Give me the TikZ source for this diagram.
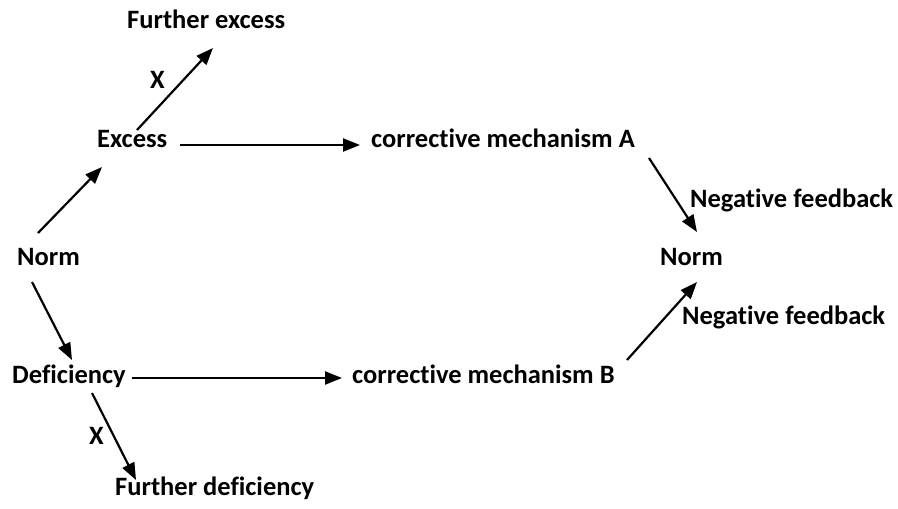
\documentclass[tikz,border=0pt]{standalone}
\usepackage{fontspec}
\setmainfont{Carlito}[Ligatures={NoCommon}]
\usetikzlibrary{arrows.meta}
\begin{document}
\begin{tikzpicture}[x=1pt,y=-1pt,
  lbl/.style={inner sep=0pt,anchor=base west,font=\bfseries\fontsize{26.5}{31}\selectfont},
  arr/.style={line width=2.2pt,-{Triangle[length=17pt,width=13pt]}}]
\useasboundingbox (0,0) rectangle (898,509);
\node[lbl] (fex) at (127,28) {Further excess};
\node[lbl] (xup) at (150,88) {X};
\node[lbl] (exc) at (97,147) {Excess};
\node[lbl] (cmA) at (371,147) {corrective mechanism A};
\node[lbl] (nfA) at (690,207) {Negative feedback};
\node[lbl] (normR) at (660,265) {Norm};
\node[lbl] (nfB) at (682,324) {Negative feedback};
\node[lbl] (normL) at (17,265) {Norm};
\node[lbl] (def) at (12,383) {Deficiency};
\node[lbl] (cmB) at (352,383) {corrective mechanism B};
\node[lbl] (xdn) at (89,444) {X};
\node[lbl] (fdef) at (115,495) {Further deficiency};
\draw[arr] ([shift={(21,-32)}]normL.base west) -- ([shift={(5,20)}]exc.base west);
\draw[arr] ([shift={(40,-17)}]exc.base west) -- ([shift={(86,20)}]fex.base west);
\draw[arr] ([shift={(83,-2)}]exc.base west) -- ([shift={(-11,-2)}]cmA.base west);
\draw[arr] ([shift={(278,11)}]cmA.base west) -- ([shift={(37,-33)}]normR.base west);
\draw[arr] ([shift={(275,-23)}]cmB.base west) -- ([shift={(37,17)}]normR.base west);
\draw[arr] ([shift={(15,17)}]normL.base west) -- ([shift={(60,-23)}]def.base west);
\draw[arr] ([shift={(120,-5)}]def.base west) -- ([shift={(-10,-5)}]cmB.base west);
\draw[arr] ([shift={(80,10)}]def.base west) -- ([shift={(21,-15)}]fdef.base west);
\end{tikzpicture}
\end{document}
